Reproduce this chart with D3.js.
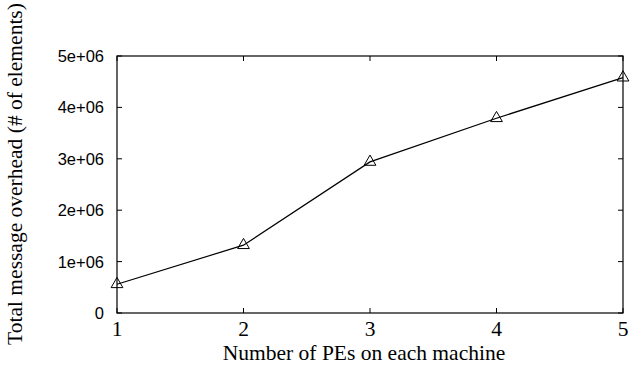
<!DOCTYPE html>
<html>
<head>
<meta charset="utf-8">
<script src="https://cdn.jsdelivr.net/npm/d3@7"></script>
<style>
  body { margin: 0; background: #fff; }
</style>
</head>
<body>
<script>
var peCounts = [1, 2, 3, 4, 5];
var overhead = [560000, 1320000, 2940000, 3790000, 4580000];
var yTicks = [0, 1000000, 2000000, 3000000, 4000000, 5000000];
var yTickLabels = ["0", "1e+06", "2e+06", "3e+06", "4e+06", "5e+06"];

var svg = d3.select("body").append("svg")
            .attr("width", 644)
            .attr("height", 367);

// plot box (note: "top" clashes with window.top, so use other names)
var plotL = 117, plotR = 623, plotT = 56, plotB = 313;

var x = d3.scaleLinear().domain([1, 5]).range([plotL, plotR]);
var y = d3.scaleLinear().domain([0, 5000000]).range([plotB, plotT]);

// inward ticks, mirrored on all four sides
var tickLen = 5;
var grid = svg.append("g").style("stroke", "#000").style("stroke-width", 1);
yTicks.forEach(function(t) {
  grid.append("line").attr("x1", plotL).attr("x2", plotL + tickLen)
      .attr("y1", y(t)).attr("y2", y(t));
  grid.append("line").attr("x1", plotR).attr("x2", plotR - tickLen)
      .attr("y1", y(t)).attr("y2", y(t));
});
peCounts.forEach(function(t) {
  grid.append("line").attr("x1", x(t)).attr("x2", x(t))
      .attr("y1", plotB).attr("y2", plotB - tickLen);
  grid.append("line").attr("x1", x(t)).attr("x2", x(t))
      .attr("y1", plotT).attr("y2", plotT + tickLen);
});

svg.append("rect")
   .attr("x", plotL).attr("y", plotT)
   .attr("width", plotR - plotL).attr("height", plotB - plotT)
   .style("fill", "none").style("stroke", "#000").style("stroke-width", 1.2);

// tick labels
svg.append("g").selectAll("text")
   .data(yTicks).enter().append("text")
   .attr("x", plotL - 13)
   .attr("y", function(d) { return y(d); })
   .attr("dy", "0.36em")
   .attr("text-anchor", "end")
   .style("font-family", "Liberation Sans, Arial, sans-serif")
   .style("font-size", "16.5px")
   .text(function(d, i) { return yTickLabels[i]; });

svg.append("g").selectAll("text")
   .data(peCounts).enter().append("text")
   .attr("x", function(d) { return x(d); })
   .attr("y", 336)
   .attr("text-anchor", "middle")
   .style("font-family", "Liberation Serif, Times New Roman, serif")
   .style("font-size", "21.5px")
   .text(function(d) { return d; });

// axis titles
svg.append("text")
   .attr("x", 364)
   .attr("y", 360)
   .attr("text-anchor", "middle")
   .style("font-family", "Liberation Serif, Times New Roman, serif")
   .style("font-size", "21.5px")
   .text("Number of PEs on each machine");

svg.append("text")
   .attr("transform", "translate(22,174) rotate(-90)")
   .attr("text-anchor", "middle")
   .style("font-family", "Liberation Serif, Times New Roman, serif")
   .style("font-size", "21.5px")
   .text("Total message overhead (# of elements)");

// the series
var line = d3.line()
  .x(function(d, i) { return x(peCounts[i]); })
  .y(function(d) { return y(d); });

svg.append("path")
   .datum(overhead)
   .attr("d", line)
   .style("fill", "none")
   .style("stroke", "#000")
   .style("stroke-width", 1.2);

var tri = d3.symbol().type(d3.symbolTriangle).size(60);
svg.append("g").selectAll("path")
   .data(overhead).enter().append("path")
   .attr("d", tri)
   .attr("transform", function(d, i) { return "translate(" + x(peCounts[i]) + "," + y(d) + ")"; })
   .style("fill", "none")
   .style("stroke", "#000")
   .style("stroke-width", 1);
</script>
</body>
</html>
